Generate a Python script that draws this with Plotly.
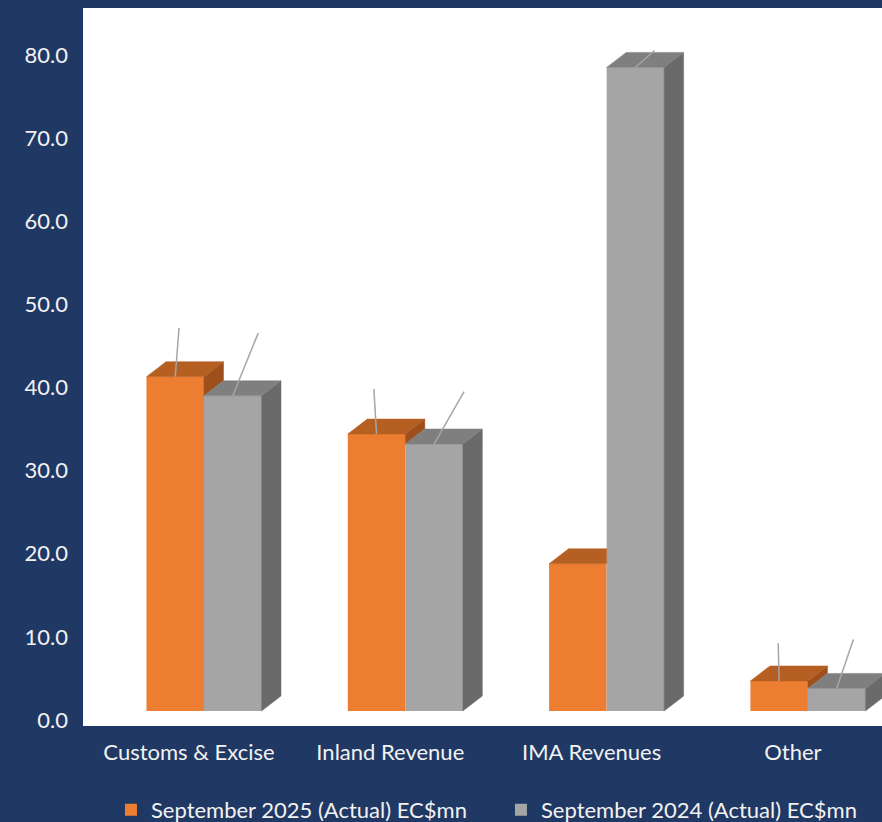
import plotly.graph_objects as go

# ---------------- data ----------------
categories = ["Customs & Excise", "Inland Revenue", "IMA Revenues", "Other"]
sep_2025 = [41.3, 34.4, 18.8, 4.7]
sep_2024 = [39.0, 33.2, 78.5, 3.8]
series_names = ["September 2025 (Actual) EC$mn", "September 2024 (Actual) EC$mn"]
y_tick_values = [0, 10, 20, 30, 40, 50, 60, 70, 80]

# ---------------- style ----------------
NAVY = "#203864"
FONT = "Lato"
TXT = "#F2F2F2"
ORANGE = ["#ED7D31", "#B65F22", "#9E501C"]   # front, top, side
GREY = ["#A5A5A5", "#7F7F7F", "#6A6A6A"]
LEADER = "#A6A6A6"

PX_X = 201.3      # px per category unit
PX_Y = 8.3125     # px per value unit
FLOOR = 1.08      # 3D floor offset (value units)
BAR_W = 57.5 / PX_X
DX = 19.5 / PX_X  # 3D depth (x)
DY = 15 / PX_Y    # 3D depth (y)
LABEL_SHIFT = -15 / PX_X
# leader line offsets in px (dx, dy) for hidden data labels
lead_2025 = [(3.8, -48.7), (-2.7, -45), None, (-1, -37.7)]
lead_2024 = [(25.5, -62.7), (30, -52.3), (19, -17), (16.7, -49)]

xs = list(range(len(categories)))

fig = go.Figure()

# front faces
fig.add_trace(go.Bar(x=xs, y=[v - FLOOR for v in sep_2025], base=FLOOR,
                     offset=-BAR_W, width=BAR_W, name=series_names[0],
                     marker=dict(color=ORANGE[0], line=dict(width=0)),
                     hoverinfo="skip"))
fig.add_trace(go.Bar(x=xs, y=[v - FLOOR for v in sep_2024], base=FLOOR,
                     offset=0, width=BAR_W, name=series_names[1],
                     marker=dict(color=GREY[0], line=dict(width=0)),
                     hoverinfo="skip"))


def poly(pts, color):
    px = [p[0] for p in pts] + [pts[0][0]]
    py = [p[1] for p in pts] + [pts[0][1]]
    fig.add_trace(go.Scatter(x=px, y=py, mode="lines", fill="toself",
                             fillcolor=color, line=dict(color=color, width=0.5),
                             hoverinfo="skip", showlegend=False))


for i in xs:
    vo, vg = sep_2025[i], sep_2024[i]
    # orange (left) bar
    xl, xr = i - BAR_W, i
    if vo >= vg:
        poly([(xr, vg), (xr, vo), (xr + DX, vo + DY), (xr + DX, vg + DY)], ORANGE[2])
        poly([(xl, vo), (xr, vo), (xr + DX, vo + DY), (xl + DX, vo + DY)], ORANGE[1])
    else:
        poly([(xl, vo), (xr, vo), (xr, vo + DY), (xl + DX, vo + DY)], ORANGE[1])
    # grey (right) bar
    xl, xr = i, i + BAR_W
    poly([(xr, FLOOR), (xr, vg), (xr + DX, vg + DY), (xr + DX, FLOOR + DY)], GREY[2])
    poly([(xl, vg), (xr, vg), (xr + DX, vg + DY), (xl + DX, vg + DY)], GREY[1])

# leader lines
for vals, leads, cx in ((sep_2025, lead_2025, -BAR_W / 2), (sep_2024, lead_2024, BAR_W / 2)):
    for i, (v, ld) in enumerate(zip(vals, leads)):
        if ld is None:
            continue
        x0 = i + cx
        fig.add_trace(go.Scatter(x=[x0, x0 + ld[0] / PX_X], y=[v, v - ld[1] / PX_Y],
                                 mode="lines", line=dict(color=LEADER, width=1.5),
                                 hoverinfo="skip", showlegend=False))

fig.update_layout(
    width=882, height=822,
    margin=dict(l=83, r=0, t=8, b=96, autoexpand=False),
    paper_bgcolor=NAVY, plot_bgcolor="white",
    barmode="overlay",
    font=dict(family=FONT, size=22, color=TXT),
    showlegend=True,
    legend=dict(orientation="h", x=0.035, xanchor="left", y=-0.0877, yanchor="top",
                font=dict(family=FONT, size=22, color=TXT),
                entrywidth=345, entrywidthmode="pixels", borderwidth=0,
                bgcolor="rgba(0,0,0,0)", traceorder="normal"),
    xaxis=dict(range=[-0.601, 3.368], tickvals=[i + LABEL_SHIFT for i in xs],
               ticktext=categories, showgrid=False, zeroline=False, showline=False,
               ticks="", ticklabelstandoff=11, fixedrange=True),
    yaxis=dict(range=[-0.72, 85.65], tickvals=y_tick_values, tickformat=".1f",
               showgrid=False, zeroline=False, showline=False, ticks="",
               ticklabelstandoff=14, fixedrange=True),
)

fig.write_html("out.html", config={"displayModeBar": False},
               post_script="document.body.style.margin='0px';")
